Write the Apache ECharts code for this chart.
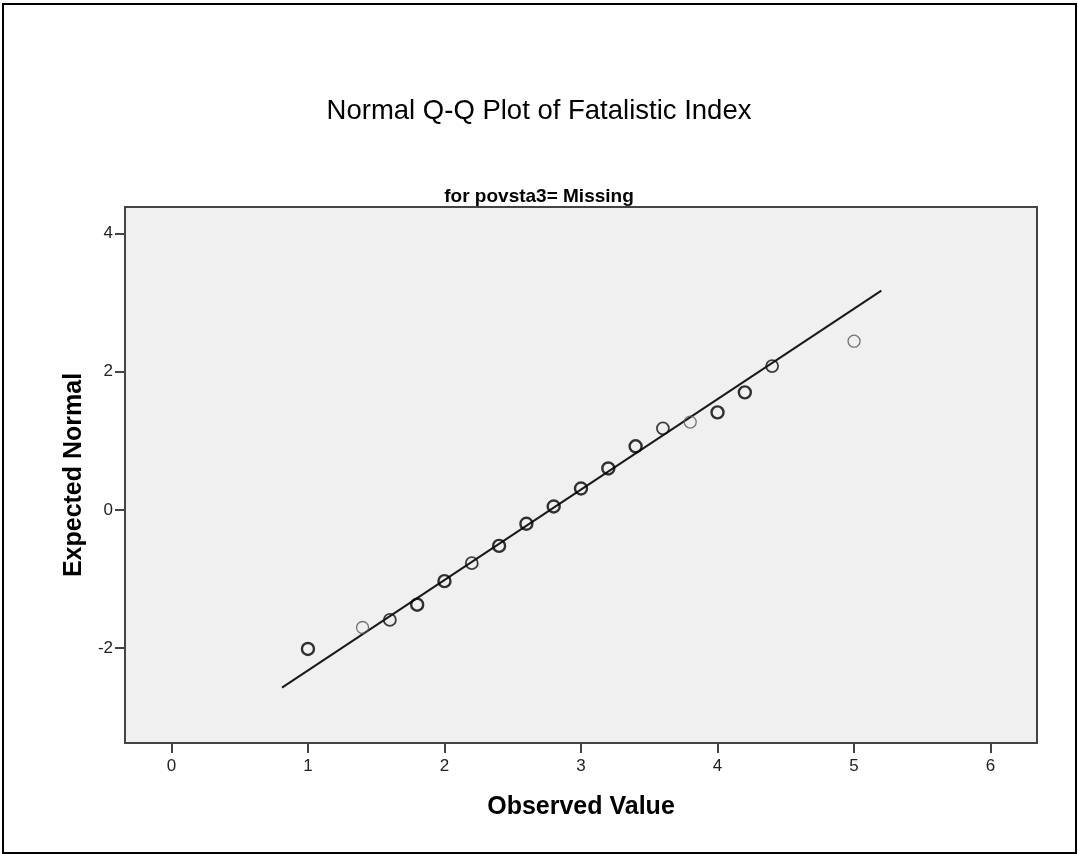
<!DOCTYPE html>
<html>
<head>
<meta charset="utf-8">
<script src="https://cdn.jsdelivr.net/npm/echarts@6/dist/echarts.min.js"></script>
<style>
html,body{margin:0;padding:0;background:#fff;}
#chart{width:1078px;height:854px;}
</style>
</head>
<body>
<div id="chart"></div>
<script>
// ---- data ----
const chartTitle = "Normal Q-Q Plot of Fatalistic Index";
const subTitle = "for povsta3= Missing";
const xName = "Observed Value";
const yName = "Expected Normal";

const observedValues = [1.0, 1.4, 1.6, 1.8, 2.0, 2.2, 2.4, 2.6, 2.8, 3.0, 3.2, 3.4, 3.6, 3.8, 4.0, 4.2, 4.4, 5.0];
const expectedNormal = [-2.01, -1.70, -1.59, -1.37, -1.03, -0.77, -0.52, -0.20, 0.05, 0.31, 0.60, 0.92, 1.18, 1.27, 1.41, 1.70, 2.08, 2.44];
// estimated number of overlapping cases per point (drawn darker when repeated)
const caseCounts = [3, 1, 2, 3, 3, 2, 3, 3, 3, 3, 3, 3, 2, 1, 3, 3, 2, 1];

const refLineX = [0.81, 5.20];
const refLineY = [-2.57, 3.17];

const xTicks = [0, 1, 2, 3, 4, 5, 6];
const yTicks = [-2, 0, 2, 4];
const xRange = [-0.34, 6.34];
const yRange = [-3.37, 4.38];

// ---- build ----
const FONT = "'Liberation Sans', Arial, Helvetica, sans-serif";
function pts(filterFn) {
  const out = [];
  for (let i = 0; i < observedValues.length; i++) {
    if (filterFn(caseCounts[i])) out.push([observedValues[i], expectedNormal[i]]);
  }
  return out;
}
const lineData = refLineX.map((x, i) => [x, refLineY[i]]);

const chart = echarts.init(document.getElementById('chart'), null, {renderer: 'canvas'});
const axisLineStyle = {show: true, onZero: false, lineStyle: {color: '#444', width: 2}};
chart.setOption({
  animation: false,
  backgroundColor: '#fff',
  title: [
    {text: chartTitle, left: 'center', top: 92,
     textStyle: {fontFamily: FONT, fontSize: 27.5, fontWeight: 'normal', color: '#000'}},
    {text: subTitle, left: 'center', top: 182,
     textStyle: {fontFamily: FONT, fontSize: 19, fontWeight: 'bold', color: '#000'}}
  ],
  grid: {left: 125, top: 207, width: 912, height: 536, show: true,
         backgroundColor: '#f0f0f0', borderColor: '#444', borderWidth: 2},
  xAxis: {
    type: 'value', min: xRange[0], max: xRange[1],
    axisLine: axisLineStyle, splitLine: {show: false},
    name: xName, nameLocation: 'middle', nameGap: 52,
    nameTextStyle: {fontFamily: FONT, fontSize: 25, fontWeight: 'bold', color: '#000'},
    axisTick: {show: true, length: 10, lineStyle: {color: '#444', width: 2}, customValues: xTicks},
    axisLabel: {customValues: xTicks, margin: 15, fontFamily: FONT, fontSize: 17, color: '#222'}
  },
  yAxis: {
    type: 'value', min: yRange[0], max: yRange[1],
    axisLine: axisLineStyle, splitLine: {show: false},
    name: yName, nameLocation: 'middle', nameGap: 33,
    nameTextStyle: {fontFamily: FONT, fontSize: 25, fontWeight: 'bold', color: '#000'},
    axisTick: {show: true, length: 10, lineStyle: {color: '#444', width: 2}, customValues: yTicks},
    axisLabel: {customValues: yTicks, margin: 12, fontFamily: FONT, fontSize: 17, color: '#222'}
  },
  graphic: [{
    type: 'rect', silent: true, z: 100,
    shape: {x: 3, y: 4, width: 1073, height: 849},
    style: {fill: 'none', stroke: '#000', lineWidth: 2}
  }],
  series: [
    {type: 'line', data: lineData, symbol: 'none', z: 2,
     lineStyle: {color: '#1a1a1a', width: 2}},
    {type: 'scatter', data: pts(c => c >= 3), symbol: 'circle', symbolSize: 12, z: 5,
     itemStyle: {color: 'rgba(0,0,0,0)', borderColor: '#000', borderWidth: 2.4}},
    {type: 'scatter', data: pts(c => c === 2), symbol: 'circle', symbolSize: 12, z: 5,
     itemStyle: {color: 'rgba(0,0,0,0)', borderColor: '#111', borderWidth: 1.8}},
    {type: 'scatter', data: pts(c => c === 1), symbol: 'circle', symbolSize: 12, z: 5,
     itemStyle: {color: 'rgba(0,0,0,0)', borderColor: '#555', borderWidth: 1.3}}
  ]
});
</script>
</body>
</html>
